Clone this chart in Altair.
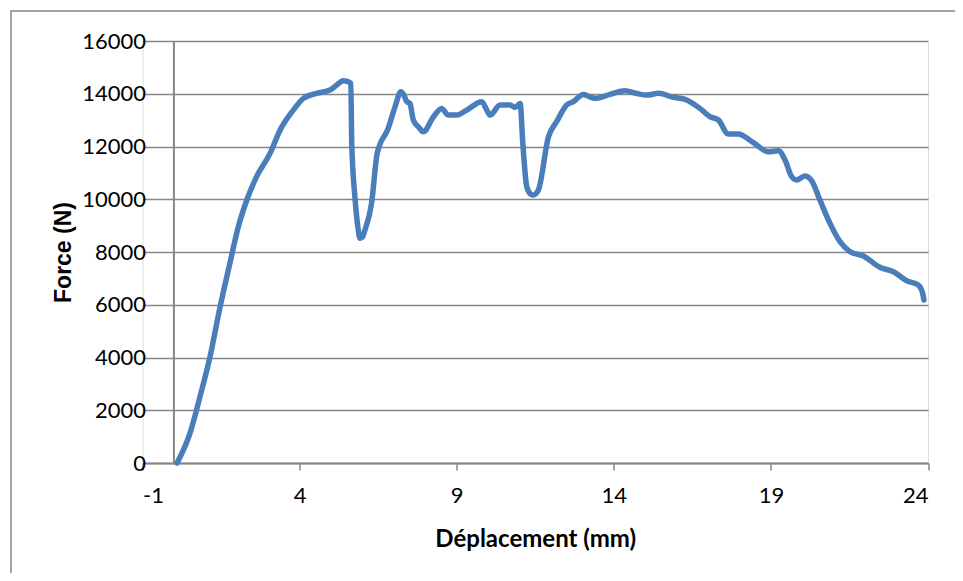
import altair as alt
import pandas as pd

# Displacement (mm) and force (N)
disp = [0.10, 0.51, 0.83, 1.15, 1.47, 1.78, 2.05, 2.32, 2.63, 3.06, 3.38, 3.80, 4.12, 4.54,
        4.97, 5.18, 5.39, 5.52, 5.63, 5.66, 5.76, 5.86, 5.92, 6.00, 6.08, 6.29, 6.47, 6.82,
        7.04, 7.22, 7.32, 7.41, 7.51, 7.62, 7.80, 7.94, 8.26, 8.52, 8.73, 9.00, 9.32, 9.80,
        9.95, 10.06, 10.38, 10.70, 10.86, 11.02, 11.10, 11.23, 11.35, 11.44, 11.60, 11.92,
        12.18, 12.50, 12.71, 13.03, 13.20, 13.40, 13.88, 14.36, 14.70, 15.05, 15.42, 15.89,
        16.27, 16.74, 17.06, 17.33, 17.64, 17.96, 18.44, 18.92, 19.24, 19.45, 19.66, 19.82,
        20.08, 20.30, 20.56, 20.88, 21.20, 21.52, 21.94, 22.47, 22.90, 23.32, 23.69, 23.83,
        23.87]
force = [0, 1125, 2515, 4030, 5925, 7570, 8960, 9970, 10855, 11740, 12625, 13380, 13825, 14015,
         14140, 14330, 14495, 14470, 14395, 12120, 10095, 8900, 8520, 8560, 8835, 9845, 11740,
         12690, 13510, 14075, 13950, 13700, 13635, 13005, 12720, 12560, 13130, 13445, 13190,
         13190, 13380, 13700, 13400, 13190, 13570, 13570, 13485, 13635, 12200, 10475, 10200,
         10160, 10350, 12370, 12940, 13570, 13700, 13975, 13900, 13825, 13975, 14115, 14020,
         13950, 14015, 13865, 13790, 13445, 13130, 13005, 12475, 12475, 12145, 11800, 11840,
         11485, 10855, 10730, 10880, 10700, 9970, 9085, 8390, 8010, 7850, 7420, 7250, 6910,
         6750, 6435, 6180]

x_ticks = [-1, 4, 9, 14, 19, 24]
y_ticks = [0, 2000, 4000, 6000, 8000, 10000, 12000, 14000, 16000]

df = pd.DataFrame({"d": disp, "f": force})

W, H = 785.5, 422
GRAY = "#878787"

xs = alt.Scale(domain=[-1, 24], nice=False, zero=False)
ys = alt.Scale(domain=[0, 16000], nice=False)

frame = alt.Chart(pd.DataFrame({"a": [0]})).mark_rect(
    fillOpacity=0, stroke=GRAY, strokeWidth=1.5
).encode(
    x=alt.value(-131.5), x2=alt.value(W + 100), y=alt.value(-30), y2=alt.value(H + 200)
)

line = alt.Chart(df).mark_line(color="#4A7EBB", strokeWidth=5.5, interpolate="monotone",
                               strokeJoin="round", strokeCap="round").encode(
    x=alt.X("d:Q", scale=xs, axis=alt.Axis(
        values=x_ticks, grid=False, domainColor=GRAY, domainWidth=2,
        tickColor=GRAY, tickWidth=1.5, tickSize=7, labelExpr="'' + datum.value",
        labelFont="Lato", labelFontSize=22, labelColor="black", labelPadding=15,
        title="Déplacement (mm)", titleFont="Lato", titleFontSize=24, titleFontWeight="bold",
        titleColor="black", titleX=W / 2, titleY=76, titleBaseline="middle",
        titleAlign="center")),
    y=alt.Y("f:Q", scale=ys, axis=alt.Axis(
        values=y_ticks, grid=True, gridColor=GRAY, gridWidth=1.7, domain=False, ticks=False,
        labelExpr="'' + datum.value",
        labelFont="Lato", labelFontSize=22, labelColor="black", labelPadding=-3,
        title="Force (N)", titleFont="Liberation Sans", titleFontSize=23,
        titleFontWeight="bold", titleColor="black", titleX=-79, titleY=H / 2,
        titleAngle=270, titleBaseline="middle", titleAlign="center")),
    order=alt.Order("d:Q"),
)

yaxis_rule = alt.Chart(pd.DataFrame({"x0": [0], "y0": [0], "y1": [16000]})).mark_rule(
    color=GRAY, strokeWidth=2
).encode(
    x=alt.X("x0:Q", scale=xs), y=alt.Y("y0:Q", scale=ys), y2="y1:Q"
)

chart = alt.layer(frame, yaxis_rule, line).properties(
    width=W, height=H,
    autosize=alt.AutoSizeParams(type="none"),
    padding={"left": 134.5, "top": 33, "right": 27, "bottom": 110},
).configure_view(stroke=None).configure(background="white")

chart.save("out.html", embed_options={"renderer": "svg", "actions": False})
